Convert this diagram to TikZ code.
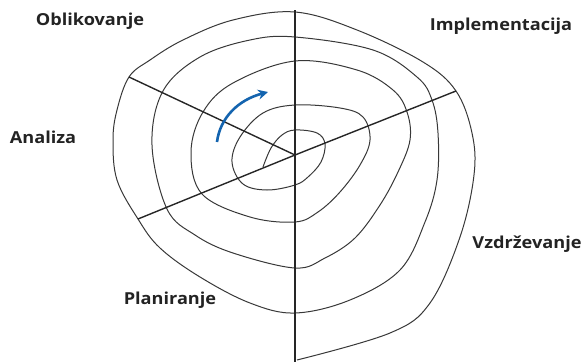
\documentclass[tikz,border=0pt]{standalone}
\usepackage{fontspec}
\setmainfont{Open Sans}
\newfontfamily\phasefont[FakeStretch=1.1]{Open Sans}
\usepackage{xcolor}
\usepackage{tikz}
\usetikzlibrary{arrows.meta, positioning}
\definecolor{spiralblue}{RGB}{20,100,175}
\definecolor{textgray}{RGB}{35,35,35}
\tikzstyle{phase} = [font=\phasefont\bfseries\fontsize{16.5}{19}\selectfont, text=textgray, inner sep=0pt]
\tikzstyle{spoke} = [line width=1.4pt, black!85]
\tikzstyle{spiralline} = [line width=1pt, black!78, smooth, tension=0.6]
\tikzstyle{arrow} = [line width=2.6pt, spiralblue, -{Stealth[length=10pt, width=10pt]}]

\begin{document}
\begin{tikzpicture}[x=1pt, y=-1pt]
    \useasboundingbox (0,0) rectangle (582,362);
    % centre and the ends of the five spokes
    \coordinate (c) at (295,155);
    \coordinate (top) at (295,10);
    \coordinate (bottom) at (295,362);
    \coordinate (ul) at (129,77);
    \coordinate (ur) at (456,91);
    \coordinate (ll) at (138,219);

    % spiral, clockwise from the centre outwards
    \draw [spiralline] plot coordinates {
        (263,167) (271,148) (282,135) (295,130)
        (317,133) (325,144) (321,162) (308,177) (295,185)
        (267,190) (243,184) (232,162) (240,137) (263,113) (295,105)
        (340,108) (363,117) (370,140) (360,165) (340,192) (318,212) (295,222)
        (250,217) (202,194) (191,152) (203,112) (233,83) (295,61)
        (357,70) (393,90) (407,112) (410,140) (398,172) (380,205) (355,238) (325,258) (295,268)
        (233,253) (195,235) (167,209) (152,145) (163,91) (200,57) (250,40) (295,37)
        (373,50) (417,77) (432,100) (438,133) (437,180) (425,222) (400,270) (350,300) (295,313)
        (250,303) (200,277) (160,248) (138,219) (117,180) (113,140) (117,110) (129,77) (150,60) (183,40) (233,20) (295,12)
        (357,30) (423,62) (456,91) (472,133) (474,175) (460,237) (430,303) (390,333) (297,360)
    };

    % spokes
    \draw [spoke] (top) -- (bottom);
    \draw [spoke] (c) -- (ul);
    \draw [spoke] (c) -- (ur);
    \draw [spoke] (c) -- (ll);

    % direction of the spiral
    \coordinate (tail) at (217,142);
    \coordinate (tip) at (268,92);
    \draw [arrow] (tail) .. controls (220,118) and (238,100) .. (tip);

    % phases
    \node (oblikovanje) [phase] at (90,21) {Oblikovanje};
    \node (implementacija) [phase] at (501,26) {Implementacija};
    \node (analiza) [phase] at (43,137) {Analiza};
    \node (vzdrzevanje) [phase] at (527,244) {Vzdrževanje};
    \node (planiranje) [phase] at (170,300) {Planiranje};
\end{tikzpicture}
\end{document}
